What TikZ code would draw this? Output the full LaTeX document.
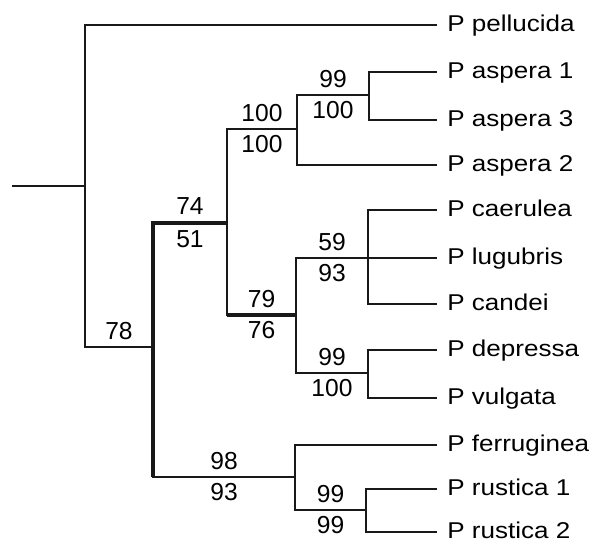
\documentclass[tikz,border=0pt]{standalone}
\usepackage{fontspec}
\setmainfont{Liberation Sans}
\newfontfamily\taxfont[FakeStretch=1.14]{Liberation Sans}
\usetikzlibrary{positioning}

\begin{document}
\begin{tikzpicture}[x=0.02cm,y=-0.02cm,
  branch/.style={draw=black!90,line width=1.2pt},
  heavy/.style={branch,line width=2.3pt},
  taxon/.style={anchor=west,inner xsep=0.2cm,inner ysep=0pt,
                text height=0.716em,text depth=0pt,
                font=\taxfont\fontsize{13}{15}\selectfont},
  supa/.style={pos=0.75,above,inner sep=3.5pt,font=\fontsize{14}{16}\selectfont},
  supb/.style={pos=0.75,below,inner sep=3pt,font=\fontsize{14}{16}\selectfont}
]
\useasboundingbox (0,0) rectangle (591,543);

% Taxa
\foreach \id/\yy/\txt in {pel/25/P pellucida,asp1/72/P aspera 1,asp3/120/P aspera 3,
    asp2/165/P aspera 2,cae/210/P caerulea,lug/258/P lugubris,can/304/P candei,
    dep/350/P depressa,vul/398/P vulgata,fer/445/P ferruginea,
    rus1/489/P rustica 1,rus2/532/P rustica 2}
  \node[taxon] (\id) at (437,\yy) {\txt};

% Internal nodes
\coordinate (stub) at (12,186);
\coordinate (root) at (85,186);
\coordinate (nA) at (153,347);
\coordinate (nB) at (227,223);
\coordinate (nC) at (297,129);
\coordinate (nE) at (369,95);
\coordinate (nD) at (296,315);
\coordinate (nF) at (368,258);
\coordinate (nH) at (368,373);
\coordinate (nG) at (295,477);
\coordinate (nI) at (366,510);

% Root
\draw[branch] (stub) -- (root);
\draw[branch] (root) |- (pel.west);
\draw[branch] (root) |- node[supa]{78} (nA);

% Main clade
\draw[heavy] (nA) |- node[supa]{74} node[supb]{51} (nB);
\draw[branch] (nA) |- node[supa]{98} node[supb]{93} (nG);
\draw[heavy] (nA) -- (nA|-nG);

% aspera group
\draw[branch] (nB) |- node[supa]{100} node[supb]{100} (nC);
\draw[branch] (nC) |- node[supa]{99} node[supb]{100} (nE);
\draw[branch] (nC) |- (asp2.west);
\draw[branch] (nE) |- (asp1.west);
\draw[branch] (nE) |- (asp3.west);

% caerulea to vulgata
\draw[branch] (nB) |- node[supa]{79} node[supb]{76} (nD);
\draw[heavy] (nB|-nD) -- (nD);
\draw[branch] (nD) |- node[supa]{59} node[supb]{93} (nF);
\draw[branch] (nD) |- node[supa]{99} node[supb]{100} (nH);
\draw[branch] (nF) |- (cae.west);
\draw[branch] (nF) -- (lug.west);
\draw[branch] (nF) |- (can.west);
\draw[branch] (nH) |- (dep.west);
\draw[branch] (nH) |- (vul.west);

% ferruginea and rustica
\draw[branch] (nG) |- (fer.west);
\draw[branch] (nG) |- node[supa]{99} node[supb]{99} (nI);
\draw[branch] (nI) |- (rus1.west);
\draw[branch] (nI) |- (rus2.west);

\end{tikzpicture}
\end{document}
